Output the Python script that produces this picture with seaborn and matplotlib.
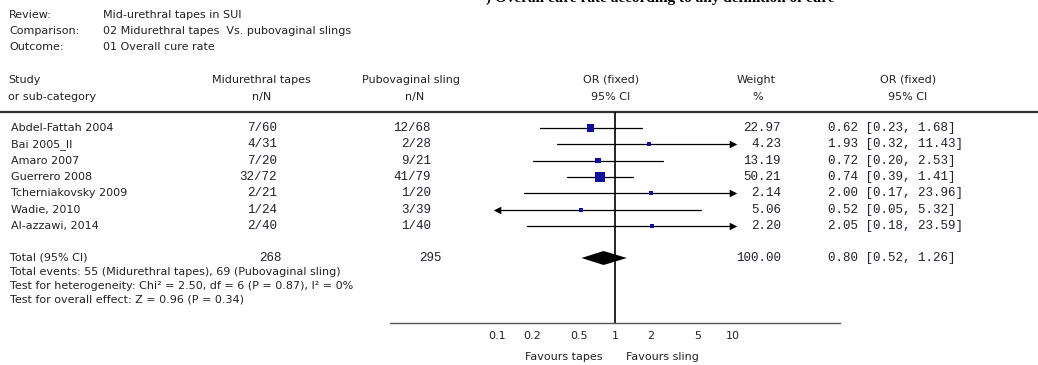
import numpy as np
import pandas as pd
import matplotlib
matplotlib.use("Agg")
import matplotlib.pyplot as plt
from matplotlib.ticker import NullLocator
import seaborn as sns

# ---- data ----
studies = ["Abdel-Fattah 2004", "Bai 2005_II", "Amaro 2007", "Guerrero 2008",
           "Tcherniakovsky 2009", "Wadie, 2010", "Al-azzawi, 2014"]
tapes_nN = ["7/60", "4/31", "7/20", "32/72", "2/21", "1/24", "2/40"]
sling_nN = ["12/68", "2/28", "9/21", "41/79", "1/20", "3/39", "1/40"]
weights = [22.97, 4.23, 13.19, 50.21, 2.14, 5.06, 2.20]
odds = [0.62, 1.93, 0.72, 0.74, 2.00, 0.52, 2.05]
ci_low = [0.23, 0.32, 0.20, 0.39, 0.17, 0.05, 0.18]
ci_high = [1.68, 11.43, 2.53, 1.41, 23.96, 5.32, 23.59]

total_tapes = 268
total_sling = 295
total_weight = 100.00
total_or, total_low, total_high = 0.80, 0.52, 1.26

tick_values = [0.1, 0.2, 0.5, 1, 2, 5, 10]
tick_labels = ["0.1", "0.2", "0.5", "1", "2", "5", "10"]

header_labels = ["Review:", "Comparison:", "Outcome:"]
header_values = ["Mid-urethral tapes in SUI",
                 "02 Midurethral tapes  Vs. pubovaginal slings",
                 "01 Overall cure rate"]
footer_lines = ["Total events: 55 (Midurethral tapes), 69 (Pubovaginal sling)",
                "Test for heterogeneity: Chi\u00b2 = 2.50, df = 6 (P = 0.87), I\u00b2 = 0%",
                "Test for overall effect: Z = 0.96 (P = 0.34)"]

# ---- style ----
sns.set_style("white")
plt.rcParams["font.family"] = ["DejaVu Sans"]

W, H = 1038, 365
fig = plt.figure(figsize=(W / 100, H / 100), dpi=100)
fig.patch.set_facecolor("white")

# page layer in pixel units
bg = fig.add_axes([0, 0, 1, 1])
bg.set_xlim(0, W)
bg.set_ylim(H, 0)
bg.axis("off")

SANS = dict(fontfamily="DejaVu Sans", fontsize=8, color="#222222")
MONO = dict(fontfamily="Liberation Mono", fontsize=9, color="#202030")

# caption sitting above the page edge, only its lower strokes show
bg.text(660, 1.5, ") Overall cure rate according to any definition of cure",
        fontfamily="Liberation Serif", fontweight="bold", fontsize=11,
        ha="center", va="baseline", color="black", clip_on=True)

for i, (lab, val) in enumerate(zip(header_labels, header_values)):
    y = 15 + 16 * i
    bg.text(9, y, lab, ha="left", va="center", **SANS)
    bg.text(103, y, val, ha="left", va="center", **SANS)

# column headers
bg.text(8, 80, "Study", ha="left", va="center", **SANS)
bg.text(8, 97, "or sub-category", ha="left", va="center", **SANS)
bg.text(261, 80, "Midurethral tapes", ha="center", va="center", **SANS)
bg.text(262, 97, "n/N", ha="center", va="center", **SANS)
bg.text(411, 80, "Pubovaginal sling", ha="center", va="center", **SANS)
bg.text(415, 97, "n/N", ha="center", va="center", **SANS)
bg.text(611, 80, "OR (fixed)", ha="center", va="center", **SANS)
bg.text(611, 97, "95% CI", ha="center", va="center", **SANS)
bg.text(756, 80, "Weight", ha="center", va="center", **SANS)
bg.text(758, 97, "%", ha="center", va="center", **SANS)
bg.text(908, 80, "OR (fixed)", ha="center", va="center", **SANS)
bg.text(908, 97, "95% CI", ha="center", va="center", **SANS)
bg.plot([0, W], [112, 112], color="#333333", lw=1.6, solid_capstyle="butt")

# study rows
row_y = 128 + 16.35 * np.arange(len(studies))
for y, s, a, b, w, o, lo, hi in zip(row_y, studies, tapes_nN, sling_nN,
                                    weights, odds, ci_low, ci_high):
    bg.text(11, y, s, ha="left", va="center", **SANS)
    bg.text(277, y, a, ha="right", va="center", **MONO)
    bg.text(431, y, b, ha="right", va="center", **MONO)
    bg.text(781, y, f"{w:.2f}", ha="right", va="center", **MONO)
    bg.text(828, y, f"{o:.2f} [{lo:.2f}, {hi:.2f}]", ha="left", va="center", **MONO)

total_y = 258
bg.text(10, total_y, "Total (95% CI)", ha="left", va="center", **SANS)
bg.text(270, total_y, str(total_tapes), ha="center", va="center", **MONO)
bg.text(430, total_y, str(total_sling), ha="center", va="center", **MONO)
bg.text(781, total_y, f"{total_weight:.2f}", ha="right", va="center", **MONO)
bg.text(828, total_y, f"{total_or:.2f} [{total_low:.2f}, {total_high:.2f}]",
        ha="left", va="center", **MONO)
for i, line in enumerate(footer_lines):
    bg.text(10, 272 + 14 * i, line, ha="left", va="center", **SANS)

bg.text(564, 357, "Favours tapes", ha="center", va="center", **SANS)
bg.text(662, 357, "Favours sling", ha="center", va="center", **SANS)

# ---- forest panel ----
x_one, decade = 615, 118.0
px0, px1, py0, py1 = 390, 840, 112, 323
fax = fig.add_axes([px0 / W, 1 - py1 / H, (px1 - px0) / W, (py1 - py0) / H])
fax.set_facecolor("none")
fax.set_xscale("log")
fax.set_xlim(10 ** ((px0 - x_one) / decade), 10 ** ((px1 - x_one) / decade))
fax.set_ylim(py1, py0)
for side in ("top", "left", "right"):
    fax.spines[side].set_visible(False)
fax.spines["bottom"].set_color("#555555")
fax.spines["bottom"].set_linewidth(1.0)
fax.set_yticks([])
fax.set_xticks(tick_values)
fax.set_xticklabels(tick_labels)
fax.xaxis.set_minor_locator(NullLocator())
fax.tick_params(axis="x", direction="inout", length=5, width=0.8,
                colors="#444444", labelsize=8, pad=3, labelcolor="#222222")
fax.axvline(1, color="black", lw=1.2, zorder=1)

clip_lo, clip_hi = tick_values[0], tick_values[-1]
for y, lo, hi in zip(row_y, ci_low, ci_high):
    x0 = max(lo, clip_lo)
    x1 = min(hi, clip_hi)
    fax.plot([x0, x1], [y, y], color="black", lw=0.9, zorder=2)
    if hi > clip_hi:
        fax.scatter([clip_hi], [y], marker=">", s=30, color="black",
                    linewidths=0, zorder=3)
    if lo < clip_lo:
        fax.scatter([clip_lo], [y], marker="<", s=30, color="black",
                    linewidths=0, zorder=3)

# weight squares
side_px = np.maximum(4.0, 0.8 + 1.3 * np.sqrt(np.array(weights)))
area = (side_px * 0.72) ** 2
df = pd.DataFrame({"OR": odds, "y": row_y, "area": area})
sns.scatterplot(data=df, x="OR", y="y", size="area",
                sizes=(area.min(), area.max()), size_norm=(area.min(), area.max()),
                marker="s", color="#10109e", edgecolor="none", linewidth=0,
                legend=False, ax=fax, zorder=4)
fax.set_xlabel("")
fax.set_ylabel("")

# pooled diamond
half_h = 7
fax.fill([total_low, total_or, total_high, total_or],
         [total_y, total_y - half_h, total_y, total_y + half_h],
         color="black", lw=0, zorder=4)

fig.savefig("out.png", dpi=100, facecolor="white")
